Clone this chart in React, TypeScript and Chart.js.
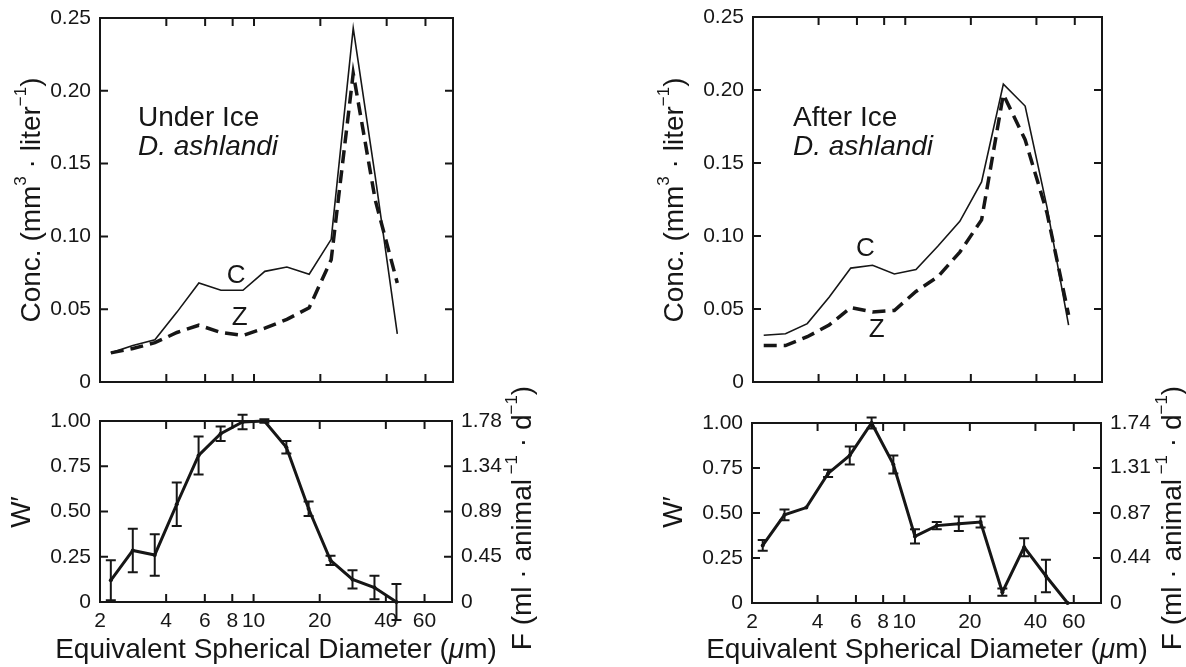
import React, { useEffect, useRef } from "react";
import { Chart, registerables } from "chart.js";

Chart.register(...registerables);

// ---------- data ----------
const X_TICKS = [2, 4, 6, 8, 10, 20, 40, 60];
const CONC_TICKS = [0, 0.05, 0.1, 0.15, 0.2, 0.25];
const W_TICKS = [0, 0.25, 0.5, 0.75, 1];
const F_TICKS_UNDER = [0, 0.45, 0.89, 1.34, 1.78];
const F_TICKS_AFTER = [0, 0.44, 0.87, 1.31, 1.74];

const SIZE_UNDER = [2.24, 2.82, 3.55, 4.47, 5.62, 7.08, 8.91, 11.2, 14.1, 17.8, 22.4, 28.2, 35.5, 44.7];
const SIZE_AFTER = [2.24, 2.82, 3.55, 4.47, 5.62, 7.08, 8.91, 11.2, 14.1, 17.8, 22.4, 28.2, 35.5, 44.7, 56.2];

const CONC_C_UNDER = [0.02, 0.025, 0.029, 0.048, 0.068, 0.063, 0.063, 0.076, 0.079, 0.074, 0.098, 0.243, 0.141, 0.033];
const CONC_Z_UNDER = [0.02, 0.023, 0.027, 0.034, 0.039, 0.034, 0.032, 0.037, 0.043, 0.051, 0.084, 0.212, 0.125, 0.068];

const CONC_C_AFTER = [0.032, 0.033, 0.04, 0.058, 0.078, 0.08, 0.074, 0.077, 0.093, 0.11, 0.137, 0.204, 0.189, 0.12, 0.039];
const CONC_Z_AFTER = [0.025, 0.025, 0.031, 0.039, 0.051, 0.048, 0.049, 0.062, 0.072, 0.089, 0.111, 0.197, 0.166, 0.116, 0.046];

const W_UNDER = [0.12, 0.285, 0.26, 0.54, 0.81, 0.93, 0.995, 1.0, 0.855, 0.515, 0.23, 0.125, 0.08, 0.0];
const W_UNDER_ERR = [0.11, 0.12, 0.115, 0.12, 0.105, 0.04, 0.04, 0.01, 0.035, 0.04, 0.025, 0.05, 0.065, 0.1];

const W_AFTER = [0.32, 0.49, 0.53, 0.72, 0.82, 1.0, 0.77, 0.37, 0.43, 0.44, 0.45, 0.06, 0.31, 0.15, 0.0];
const W_AFTER_ERR = [0.03, 0.03, 0, 0.02, 0.05, 0.03, 0.05, 0.04, 0.02, 0.04, 0.03, 0.02, 0.05, 0.09, 0];

// ---------- styling ----------
const FONT = "'Liberation Sans', Arial, Helvetica, sans-serif";
const INK = "#161616";
const PAGE_W = 1186;
const PAGE_H = 667;
Chart.defaults.font.family = FONT;

type Seg = { t: string; sup?: boolean; italic?: boolean };
type Txt = {
  segs: Seg[];
  x?: number; y?: number; // page pixels
  xv?: number; yv?: number; // data coordinates
  size: number;
  rotate?: boolean;
  align?: "left" | "center";
};
type Area = { left: number; top: number; right: number; bottom: number };
type Spec = {
  kind: "conc" | "w";
  area: Area;
  sizes: number[];
  series: number[][];
  errs?: number[];
  fTicks?: number[];
  texts: Txt[];
};

const CONC_TITLE: Seg[] = [
  { t: "Conc. (mm" },
  { t: "3", sup: true },
  { t: " · liter" },
  { t: "−1", sup: true },
  { t: ")" },
];
const F_TITLE: Seg[] = [
  { t: "F (ml · animal" },
  { t: " −1", sup: true },
  { t: " · d" },
  { t: "−1", sup: true },
  { t: ")" },
];
const X_TITLE: Seg[] = [
  { t: "Equivalent Spherical Diameter (" },
  { t: "μ", italic: true },
  { t: "m)" },
];

function drawRich(ctx: CanvasRenderingContext2D, txt: Txt, cx: number, cy: number) {
  const size = txt.size;
  ctx.save();
  ctx.translate(cx, cy);
  if (txt.rotate) ctx.rotate(-Math.PI / 2);
  const fontFor = (s: Seg) =>
    `${s.italic ? "italic " : ""}${s.sup ? Math.round(size * 0.62) : size}px ${FONT}`;
  let total = 0;
  const widths = txt.segs.map((s) => {
    ctx.font = fontFor(s);
    const w = ctx.measureText(s.t).width;
    total += w;
    return w;
  });
  let x = txt.align === "left" ? 0 : -total / 2;
  ctx.textBaseline = "middle";
  ctx.textAlign = "left";
  ctx.fillStyle = INK;
  txt.segs.forEach((s, i) => {
    ctx.font = fontFor(s);
    ctx.fillText(s.t, x, s.sup ? -size * 0.38 : 0);
    x += widths[i];
  });
  ctx.restore();
}

const panelPlugin = {
  id: "panelDecor",
  afterDraw(chart: any, _args: any, opts: any) {
    const spec: Spec = opts.spec;
    const ctx: CanvasRenderingContext2D = chart.ctx;
    const { left, top, right, bottom } = chart.chartArea;
    const xs = chart.scales.x;
    const ys = chart.scales.y;
    ctx.save();
    // error bars
    if (spec.errs) {
      ctx.strokeStyle = INK;
      ctx.lineWidth = 2;
      const vals = spec.series[0];
      spec.errs.forEach((e, i) => {
        if (!e) return;
        const px = xs.getPixelForValue(spec.sizes[i]);
        const y1 = ys.getPixelForValue(vals[i] - e);
        const y2 = ys.getPixelForValue(vals[i] + e);
        ctx.beginPath();
        ctx.moveTo(px, y1);
        ctx.lineTo(px, y2);
        ctx.moveTo(px - 5, y1);
        ctx.lineTo(px + 5, y1);
        ctx.moveTo(px - 5, y2);
        ctx.lineTo(px + 5, y2);
        ctx.stroke();
      });
    }
    // frame
    ctx.strokeStyle = INK;
    ctx.lineWidth = 2;
    ctx.strokeRect(left, top, right - left, bottom - top);
    // inward ticks
    ctx.lineWidth = 2;
    const TL = 8;
    ctx.beginPath();
    xs.ticks.forEach((t: any) => {
      const px = xs.getPixelForValue(t.value);
      ctx.moveTo(px, bottom);
      ctx.lineTo(px, bottom - TL);
      ctx.moveTo(px, top);
      ctx.lineTo(px, top + TL);
    });
    ys.ticks.forEach((t: any) => {
      const py = ys.getPixelForValue(t.value);
      ctx.moveTo(left, py);
      ctx.lineTo(left + TL, py);
      ctx.moveTo(right, py);
      ctx.lineTo(right - TL, py);
    });
    ctx.stroke();
    ctx.restore();
    // texts
    spec.texts.forEach((tx) => {
      const cx = tx.xv !== undefined ? xs.getPixelForValue(tx.xv) : (tx.x as number);
      const cy = tx.yv !== undefined ? ys.getPixelForValue(tx.yv) : (tx.y as number);
      drawRich(ctx, tx, cx, cy);
    });
  },
};

function zeroPad(s: any) {
  s.paddingLeft = 0;
  s.paddingRight = 0;
  s.paddingTop = 0;
  s.paddingBottom = 0;
}

const fmt = (v: any) => (Number(v) === 0 ? "0" : Number(v).toFixed(2));

function makeConfig(spec: Spec): any {
  const a = spec.area;
  const isConc = spec.kind === "conc";
  const tickFont = { size: 21, family: FONT };
  const datasets = isConc
    ? [
        {
          label: "C",
          data: spec.sizes.map((x, i) => ({ x, y: spec.series[0][i] })),
          borderColor: INK,
          borderWidth: 1.6,
          pointRadius: 0,
          tension: 0,
          clip: 10,
        },
        {
          label: "Z",
          data: spec.sizes.map((x, i) => ({ x, y: spec.series[1][i] })),
          borderColor: INK,
          borderWidth: 3.5,
          borderDash: [13, 7],
          pointRadius: 0,
          tension: 0,
          clip: 10,
        },
      ]
    : [
        {
          label: "W'",
          data: spec.sizes.map((x, i) => ({ x, y: spec.series[0][i] })),
          borderColor: INK,
          backgroundColor: INK,
          borderWidth: 3,
          pointRadius: 2,
          pointBorderWidth: 0,
          tension: 0,
          clip: 10,
        },
      ];
  const scales: any = {
    x: {
      type: "logarithmic",
      position: "bottom",
      min: 2,
      max: 80,
      grid: { display: false, drawTicks: false },
      border: { display: false },
      afterBuildTicks: (s: any) => {
        s.ticks = X_TICKS.map((v) => ({ value: v }));
      },
      afterFit: (s: any) => {
        s.height = PAGE_H - a.bottom;
        zeroPad(s);
      },
      ticks: {
        display: !isConc,
        autoSkip: false,
        maxRotation: 0,
        minRotation: 0,
        padding: 7,
        font: tickFont,
        color: INK,
        callback: (v: any) => String(v),
      },
    },
    y: {
      type: "linear",
      position: "left",
      min: 0,
      max: isConc ? 0.25 : 1,
      grid: { display: false, drawTicks: false },
      border: { display: false },
      afterBuildTicks: (s: any) => {
        s.ticks = (isConc ? CONC_TICKS : W_TICKS).map((v) => ({ value: v }));
      },
      afterFit: (s: any) => {
        s.width = a.left;
        zeroPad(s);
      },
      ticks: { padding: 9, font: tickFont, color: INK, callback: fmt },
    },
  };
  if (!isConc && spec.fTicks) {
    const ft = spec.fTicks;
    scales.y2 = {
      type: "linear",
      position: "right",
      display: true,
      min: 0,
      max: ft[ft.length - 1],
      grid: { display: false, drawTicks: false },
      border: { display: false },
      afterBuildTicks: (s: any) => {
        s.ticks = ft.map((v) => ({ value: v }));
      },
      afterFit: (s: any) => {
        s.width = PAGE_W - a.right;
        zeroPad(s);
      },
      ticks: { padding: 9, font: tickFont, color: INK, callback: fmt },
    };
  }
  return {
    type: "line",
    data: { datasets },
    options: {
      responsive: false,
      maintainAspectRatio: false,
      animation: false,
      devicePixelRatio: 1,
      events: [],
      layout: {
        padding: {
          left: 0,
          top: a.top,
          right: isConc ? PAGE_W - a.right : 0,
          bottom: 0,
        },
      },
      scales,
      plugins: {
        legend: { display: false },
        tooltip: { enabled: false },
        panelDecor: { spec },
      },
    },
    plugins: [panelPlugin],
  };
}

const SPECS: Spec[] = [
  {
    kind: "conc",
    area: { left: 100, top: 18, right: 453, bottom: 382 },
    sizes: SIZE_UNDER,
    series: [CONC_C_UNDER, CONC_Z_UNDER],
    texts: [
      { segs: CONC_TITLE, x: 32, y: 200, size: 28, rotate: true },
      { segs: [{ t: "Under Ice" }], x: 138, y: 118, size: 28, align: "left" },
      { segs: [{ t: "D. ashlandi", italic: true }], x: 138, y: 147, size: 28, align: "left" },
      { segs: [{ t: "C" }], xv: 8.3, yv: 0.073, size: 26 },
      { segs: [{ t: "Z" }], xv: 8.6, yv: 0.044, size: 26 },
    ],
  },
  {
    kind: "w",
    area: { left: 100, top: 421, right: 452, bottom: 602 },
    sizes: SIZE_UNDER,
    series: [W_UNDER],
    errs: W_UNDER_ERR,
    fTicks: F_TICKS_UNDER,
    texts: [
      { segs: [{ t: "W′" }], x: 22, y: 512, size: 28, rotate: true },
      { segs: X_TITLE, x: 276, y: 650, size: 28 },
      { segs: F_TITLE, x: 523, y: 518, size: 28, rotate: true },
    ],
  },
  {
    kind: "conc",
    area: { left: 753, top: 17, right: 1102, bottom: 382 },
    sizes: SIZE_AFTER,
    series: [CONC_C_AFTER, CONC_Z_AFTER],
    texts: [
      { segs: CONC_TITLE, x: 675, y: 200, size: 28, rotate: true },
      { segs: [{ t: "After Ice" }], x: 793, y: 118, size: 28, align: "left" },
      { segs: [{ t: "D. ashlandi", italic: true }], x: 793, y: 147, size: 28, align: "left" },
      { segs: [{ t: "C" }], xv: 6.56, yv: 0.091, size: 26 },
      { segs: [{ t: "Z" }], xv: 7.4, yv: 0.036, size: 26 },
    ],
  },
  {
    kind: "w",
    area: { left: 752, top: 423, right: 1101, bottom: 603 },
    sizes: SIZE_AFTER,
    series: [W_AFTER],
    errs: W_AFTER_ERR,
    fTicks: F_TICKS_AFTER,
    texts: [
      { segs: [{ t: "W′" }], x: 674, y: 512, size: 28, rotate: true },
      { segs: X_TITLE, x: 927, y: 650, size: 28 },
      { segs: F_TITLE, x: 1173, y: 518, size: 28, rotate: true },
    ],
  },
];

function Panel({ spec }: { spec: Spec }) {
  const ref = useRef<HTMLCanvasElement>(null);
  useEffect(() => {
    if (!ref.current) return;
    const chart = new Chart(ref.current, makeConfig(spec));
    return () => chart.destroy();
  }, [spec]);
  return (
    <canvas
      ref={ref}
      width={PAGE_W}
      height={PAGE_H}
      style={{ position: "absolute", left: 0, top: 0, width: PAGE_W, height: PAGE_H }}
    />
  );
}

export default function App() {
  return (
    <div
      style={{
        position: "absolute",
        left: 0,
        top: 0,
        width: PAGE_W,
        height: PAGE_H,
        background: "#fff",
        overflow: "hidden",
      }}
    >
      {SPECS.map((s, i) => (
        <Panel key={i} spec={s} />
      ))}
    </div>
  );
}
